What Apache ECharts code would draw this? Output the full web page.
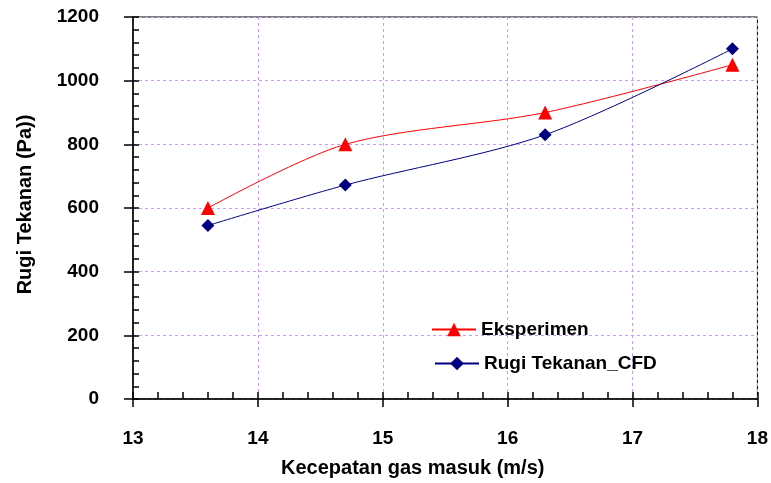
<!DOCTYPE html>
<html>
<head>
<meta charset="utf-8">
<script src="https://cdn.jsdelivr.net/npm/echarts@6/dist/echarts.min.js"></script>
<style>
  html, body { margin: 0; padding: 0; background: #fff; }
  #chart { width: 771px; height: 483px; }
</style>
</head>
<body>
<div id="chart"></div>
<script>
// data
var kecepatan = [13.6, 14.7, 16.3, 17.8];
var eksperimen = [600, 800, 900, 1050];
var cfd = [545, 672, 830, 1100];

var font = 'Arial, "Liberation Sans", sans-serif';

function pairs(xs, ys) {
    return xs.map(function (x, i) { return [x, ys[i]]; });
}

var myChart = echarts.init(document.getElementById('chart'));

myChart.setOption({
    animation: false,
    grid: {
        left: 133, top: 17, right: 10, bottom: 83,
        show: true,
        borderColor: '#000',
        borderWidth: 1
    },
    legend: [{
        left: 426, top: 315,
        itemWidth: 44, itemHeight: 17,
        data: ['Eksperimen'],
        textStyle: { fontFamily: font, fontWeight: 'bold', fontSize: 19, color: '#000' }
    }, {
        left: 429, top: 349,
        itemWidth: 44, itemHeight: 17,
        data: ['Rugi Tekanan_CFD'],
        textStyle: { fontFamily: font, fontWeight: 'bold', fontSize: 19, color: '#000' }
    }],
    xAxis: [{
        type: 'value',
        min: 13, max: 18, interval: 1,
        name: 'Kecepatan gas masuk (m/s)',
        nameLocation: 'middle',
        nameGap: 59,
        nameTextStyle: { fontFamily: font, fontWeight: 'bold', fontSize: 20, color: '#000', padding: [0, 65, 0, 0] },
        axisLine: { lineStyle: { color: '#000', width: 1.5 } },
        axisTick: { inside: true, length: 7, lineStyle: { color: '#000', width: 1.5 } },
        minorTick: { show: true, splitNumber: 5, length: 7, lineStyle: { color: '#000', width: 1.5 } },
        axisLabel: { margin: 30, fontFamily: font, fontWeight: 'bold', fontSize: 19, color: '#000' },
        splitLine: { show: true, lineStyle: { color: '#cc99ff', type: [3, 3], width: 1 } }
    }, {
        // outer part of the major ticks
        type: 'value', position: 'bottom',
        min: 13, max: 18, interval: 1,
        axisLine: { show: false },
        axisTick: { show: true, length: 8, lineStyle: { color: '#000', width: 1.5 } },
        axisLabel: { show: false },
        splitLine: { show: false }
    }],
    yAxis: [{
        type: 'value',
        min: 0, max: 1200, interval: 200,
        name: 'Rugi Tekanan (Pa))',
        nameLocation: 'middle',
        nameGap: 98,
        nameTextStyle: { fontFamily: font, fontWeight: 'bold', fontSize: 20, color: '#000', padding: [0, 0, 0, 7] },
        axisLine: { show: true, lineStyle: { color: '#000', width: 1.5 } },
        axisTick: { show: true, inside: true, length: 6, lineStyle: { color: '#000', width: 1.5 } },
        minorTick: { show: true, splitNumber: 5, length: 6, lineStyle: { color: '#000', width: 1.5 } },
        axisLabel: { margin: 34, fontFamily: font, fontWeight: 'bold', fontSize: 19, color: '#000',
            formatter: function (v) { return String(v); } },
        splitLine: { show: true, lineStyle: { color: '#cc99ff', type: [3, 3], width: 1 } }
    }, {
        type: 'value', position: 'left',
        min: 0, max: 1200, interval: 200,
        axisLine: { show: false },
        axisTick: { show: true, length: 9, lineStyle: { color: '#000', width: 1.5 } },
        axisLabel: { show: false },
        splitLine: { show: false }
    }],
    series: [{
        name: 'Eksperimen',
        type: 'line',
        smooth: 0.3,
        data: pairs(kecepatan, eksperimen),
        symbol: 'triangle',
        symbolSize: 14,
        lineStyle: { color: '#ff0000', width: 1 },
        itemStyle: { color: '#ff0000' }
    }, {
        name: 'Rugi Tekanan_CFD',
        type: 'line',
        smooth: 0.3,
        data: pairs(kecepatan, cfd),
        symbol: 'diamond',
        symbolSize: 13,
        lineStyle: { color: '#000080', width: 1 },
        itemStyle: { color: '#000080' }
    }]
});
</script>
</body>
</html>
